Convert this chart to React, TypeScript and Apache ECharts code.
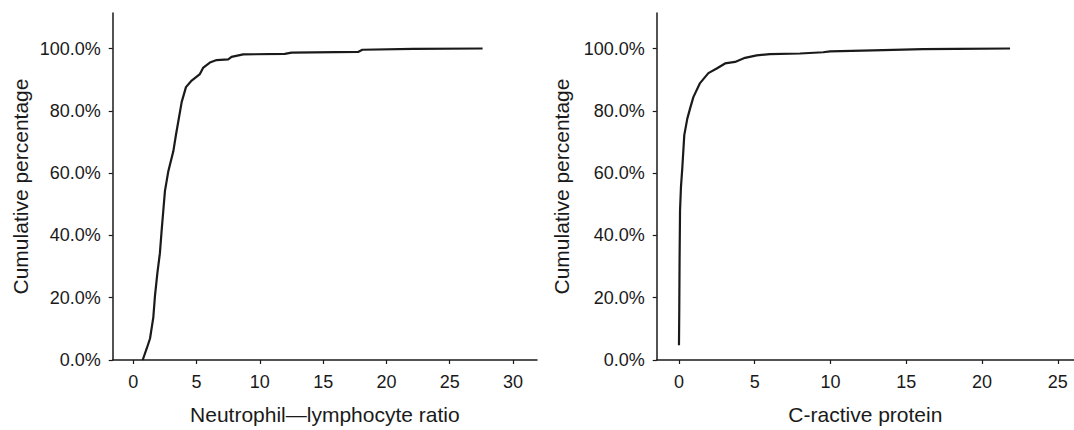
import React, { useEffect, useRef } from "react";
import * as echarts from "echarts";

// Neutrophil–lymphocyte ratio: [value, cumulative %]
const nlrData: [number, number][] = [
  [0.74, 0], [1.06, 3.7], [1.32, 6.9], [1.58, 13.7], [1.71, 20.6], [1.9, 27.9],
  [2.1, 34.3], [2.24, 41.7], [2.37, 48], [2.5, 54.3], [2.77, 60.7], [3.16, 67],
  [3.37, 72.3], [3.55, 76.5], [3.82, 82.8], [4.16, 87.6], [4.61, 89.7], [5.26, 91.8],
  [5.53, 93.9], [6.05, 95.5], [6.58, 96.3], [7.5, 96.5], [7.76, 97.3], [8.68, 98.1],
  [11.97, 98.3], [12.5, 98.7], [17.76, 98.9], [18.1, 99.6], [22.1, 99.9], [27.6, 100],
];

// C-reactive protein: [value, cumulative %]
const crpData: [number, number][] = [
  [0, 4.7], [0.02, 16.4], [0.04, 32.2], [0.07, 48], [0.13, 55.4], [0.22, 61.7],
  [0.35, 72.2], [0.55, 77.5], [0.73, 80.7], [0.95, 84.4], [1.39, 88.9], [1.94, 92.1],
  [2.49, 93.6], [3.04, 95.2], [3.7, 95.7], [4.36, 97.0], [5.13, 97.8], [6.0, 98.2],
  [7.99, 98.4], [9.52, 98.8], [9.97, 99.1], [12.8, 99.4], [16.1, 99.8], [18.3, 99.9],
  [21.85, 100],
];

const yTicks = [0, 20, 40, 60, 80, 100];
const nlrTicks = [0, 5, 10, 15, 20, 25, 30];
const crpTicks = [0, 5, 10, 15, 20, 25];

const yTitle = "Cumulative percentage";
const nlrTitle = "Neutrophil\u2014lymphocyte ratio";
const crpTitle = "C-ractive protein";

export default function App() {
  const ref = useRef<HTMLDivElement>(null);

  useEffect(() => {
    const chart = echarts.init(ref.current!, null, { renderer: "svg" });
    const font = "'Liberation Sans', Arial, Helvetica, sans-serif";
    const ink = "#1a1a1a";
    const axisLine = { show: true, onZero: false, lineStyle: { color: ink, width: 1.5 } };

    const mkX = (gridIndex: number, min: number, max: number, ticks: number[], name: string) => ({
      type: "value",
      gridIndex,
      min,
      max,
      name,
      nameLocation: "middle",
      nameGap: 44,
      nameTextStyle: { fontSize: 21, color: ink, fontFamily: font },
      axisLine,
      axisTick: { show: true, length: 4, customValues: ticks, lineStyle: { color: ink, width: 1.2 } },
      axisLabel: { customValues: ticks, fontSize: 18, color: ink, fontFamily: font, margin: 13 },
      splitLine: { show: false },
    });

    const mkY = (gridIndex: number, gap: number) => ({
      type: "value",
      gridIndex,
      min: 0,
      max: 111.4,
      name: yTitle,
      nameLocation: "middle",
      nameGap: gap,
      nameRotate: 90,
      nameTextStyle: { fontSize: 21, color: ink, fontFamily: font },
      axisLine,
      axisTick: { show: true, length: 4, customValues: yTicks, lineStyle: { color: ink, width: 1.2 } },
      axisLabel: {
        customValues: yTicks,
        fontSize: 18,
        color: ink,
        fontFamily: font,
        margin: 12,
        formatter: (v: number) => v.toFixed(1) + "%",
      },
      splitLine: { show: false },
    });

    const lineSeries = (i: number, data: [number, number][]) => ({
      type: "line",
      xAxisIndex: i,
      yAxisIndex: i,
      data,
      showSymbol: false,
      symbol: "none",
      lineStyle: { color: ink, width: 2.2 },
    });

    chart.setOption({
      animation: false,
      backgroundColor: "#ffffff",
      grid: [
        { left: 112.7, right: 1074 - 537, top: 13, bottom: 65 },
        { left: 656.7, right: 0, top: 13, bottom: 65 },
      ],
      xAxis: [
        mkX(0, -1.63, 31.9, nlrTicks, nlrTitle),
        mkX(1, -1.47, 26.07, crpTicks, crpTitle),
      ],
      yAxis: [mkY(0, 82), mkY(1, 85)],
      series: [lineSeries(0, nlrData), lineSeries(1, crpData)],
    });

    return () => chart.dispose();
  }, []);

  return (
    <div
      ref={ref}
      style={{ position: "fixed", left: 0, top: 0, width: 1074, height: 430, background: "#fff" }}
    />
  );
}
